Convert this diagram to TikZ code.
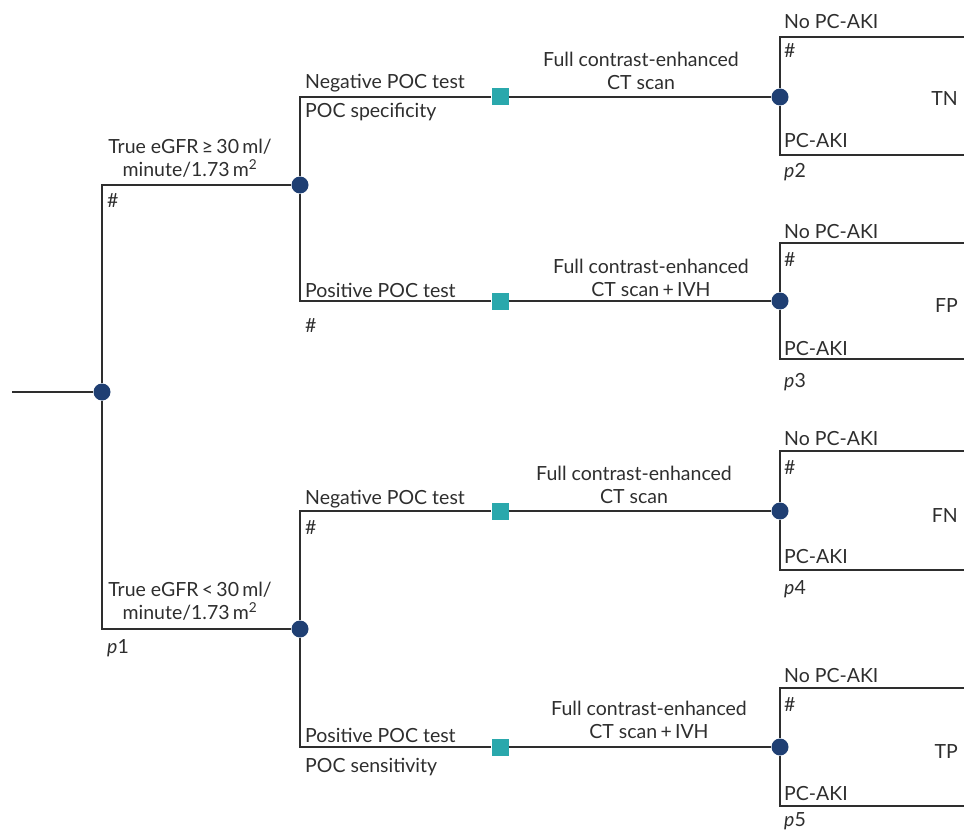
\documentclass[tikz,border=0pt]{standalone}
\usepackage{fontspec}
\setmainfont{Lato}
\usetikzlibrary{positioning}
\definecolor{chancecol}{HTML}{1F3F73}
\definecolor{deccol}{HTML}{2AA8AC}
\definecolor{linecol}{HTML}{2E2E2E}

\begin{document}
\begin{tikzpicture}[x=1pt, y=-1pt,
	chance/.style={circle, fill=chancecol, inner sep=0pt, minimum size=17pt},
	dec/.style={rectangle, fill=deccol, inner sep=0pt, minimum size=17pt},
	branch/.style={draw=linecol, line width=1.6pt},
	txt/.style={inner sep=0pt, text=linecol, font=\fontsize{19.5}{23.5}\selectfont},
	lbl/.style={txt, anchor=base west},
	captxt/.style={txt, anchor=south, align=center}]
		\clip (0,0) rectangle (964,832);
		% chance and decision nodes
		\coordinate (root) at (12,392);
		\node[chance] (c0) at (102,392) {};
		\node[chance] (c1) at (300,185) {}; \node[chance] (c2) at (300,629) {};
		\node[dec] (s1) at (500,97) {}; \node[dec] (s2) at (500,301) {};
		\node[dec] (s3) at (500,511) {}; \node[dec] (s4) at (500,747) {};
		\node[chance] (t1) at (780,97) {}; \node[chance] (t2) at (780,301) {};
		\node[chance] (t3) at (780,511) {}; \node[chance] (t4) at (780,747) {};
		% branches
		\draw[branch] (root) -- (c0);
		\draw[branch] (c0) |- (c1); \draw[branch] (c0) |- (c2);
		\draw[branch] (c1) |- (s1); \draw[branch] (c1) |- (s2);
		\draw[branch] (c2) |- (s3); \draw[branch] (c2) |- (s4);
		\draw[branch] (s1) -- (t1); \draw[branch] (s2) -- (t2);
		\draw[branch] (s3) -- (t3); \draw[branch] (s4) -- (t4);
		% outcome boxes, open to the right
		\coordinate (t1a) at (970,37); \coordinate (t1b) at (970,155);
		\coordinate (t2a) at (970,243); \coordinate (t2b) at (970,359);
		\coordinate (t3a) at (970,451); \coordinate (t3b) at (970,570);
		\coordinate (t4a) at (970,688); \coordinate (t4b) at (970,806);
		\draw[branch] (t1a) -| (t1) |- (t1b); \draw[branch] (t2a) -| (t2) |- (t2b);
		\draw[branch] (t3a) -| (t3) |- (t3b); \draw[branch] (t4a) -| (t4) |- (t4b);
		% branch labels
		\node[captxt] (egfrhi) at (190,178) {True eGFR\,≥\,30\,ml/\\minute/1.73\,m\textsuperscript{2}};
		\node[lbl] (hashhi) at (107,207) {\#};
		\node[captxt] (egfrlo) at (190,621) {True eGFR\,<\,30\,ml/\\minute/1.73\,m\textsuperscript{2}};
		\node[lbl] (pone) at (107,653) {\textit{p}1};
		\node[lbl] (neghi) at (305,89) {Negative POC test};
		\node[lbl] (spec) at (305,118) {POC specificity};
		\node[lbl] (poshi) at (305,297) {Positive POC test};
		\node[lbl] (hashposhi) at (305,332) {\#};
		\node[lbl] (neglo) at (305,504) {Negative POC test};
		\node[lbl] (hashneglo) at (305,534) {\#};
		\node[lbl] (poslo) at (305,742) {Positive POC test};
		\node[lbl] (sens) at (305,772) {POC sensitivity};
		\node[captxt] (scan1) at (641,90) {Full contrast-enhanced\\CT scan};
		\node[captxt] (scan2) at (651,297) {Full contrast-enhanced\\CT scan\,+\,IVH};
		\node[captxt] (scan3) at (634,504) {Full contrast-enhanced\\CT scan};
		\node[captxt] (scan4) at (649,739) {Full contrast-enhanced\\CT scan\,+\,IVH};
		% outcome labels
		\node[lbl] (no1) at (784,29) {No PC-AKI}; \node[lbl] (h1) at (784,58) {\#};
		\node[lbl] (pc1) at (784,148) {PC-AKI}; \node[lbl] (p2) at (784,178) {\textit{p}2};
		\node[txt, anchor=base east] (tn) at (958,106) {TN};
		\node[lbl] (no2) at (784,238) {No PC-AKI}; \node[lbl] (h2) at (784,266) {\#};
		\node[lbl] (pc2) at (784,355) {PC-AKI}; \node[lbl] (p3) at (784,387) {\textit{p}3};
		\node[txt, anchor=base east] (fp) at (958,312) {FP};
		\node[lbl] (no3) at (784,445) {No PC-AKI}; \node[lbl] (h3) at (784,474) {\#};
		\node[lbl] (pc3) at (784,563) {PC-AKI}; \node[lbl] (p4) at (784,594) {\textit{p}4};
		\node[txt, anchor=base east] (fn) at (958,522) {FN};
		\node[lbl] (no4) at (784,682) {No PC-AKI}; \node[lbl] (h4) at (784,711) {\#};
		\node[lbl] (pc4) at (784,800) {PC-AKI}; \node[lbl] (p5) at (784,826) {\textit{p}5};
		\node[txt, anchor=base east] (tp) at (958,758) {TP};
	\end{tikzpicture}
\end{document}
